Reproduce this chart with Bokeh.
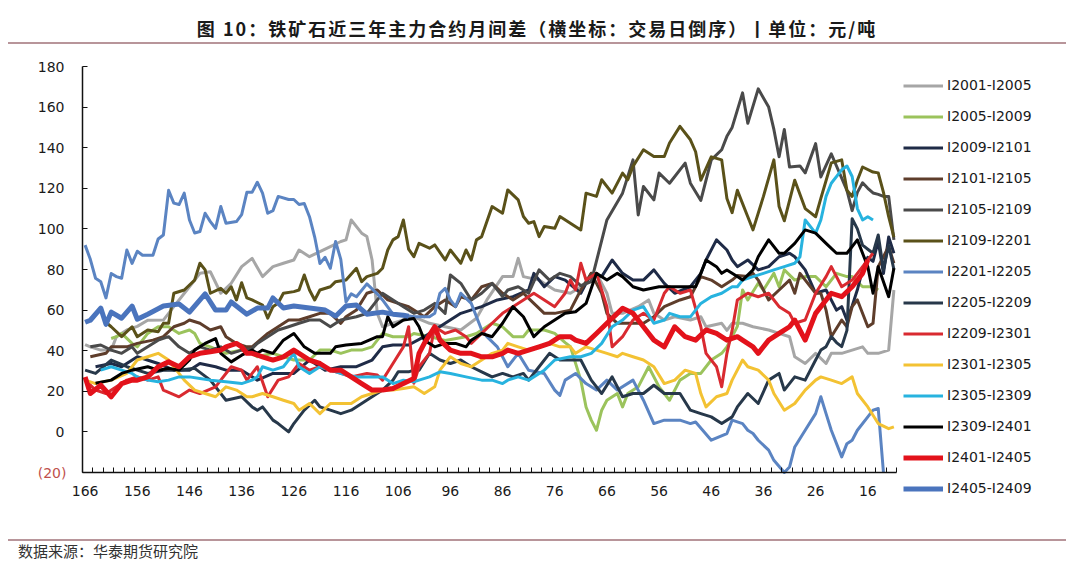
from bokeh.plotting import figure
from bokeh.models import Range1d, FixedTicker, Legend, LegendItem, LinearAxis, Div
from bokeh.layouts import column
from bokeh.embed import file_html
from bokeh.resources import INLINE

# ---- data: (trading days before expiry, spread in yuan/ton) ----
I2001_I2005 = [(166,43),(165,41.9),(163,40.3),(161,40.3),(160,46.9),(158,50.2),(156,52),(154,55),(151,55.1),(149,61.7),(146,71.5),(144,78.1),(142,78.9),(140,68.3),(138,73.2),(136,81.4),(134,85.5),(132,76.5),(130,81.4),(128,83.1),(126,84.7),(125,89.6),(123,86.3),(121,88.8),(119,91.3),(117,93.8),(116,94.6),(115,104.4),(113,97.9),(112,96.2),(111,84.7),(110,58.4),(109,51.8),(107,53.5),(105,55.1),(103,56.7),(100,53.5),(97,51.8),(94,50.2),(91,56),(89,65),(86,76.5),(84,76.5),(83,85.5),(82,76.5),(79,74.8),(77,71.5),(76,69.9),(73,68.3),(71,71.5),(68,78.1),(66,68.3),(65,58.4),(63,58.4),(60,61.7),(58,65),(57,58.4),(55,55.1),(53,56.7),(50,55.1),(48,56.7),(47,51.8),(44,53.5),(43,50),(42,53.5),(40,53.5),(38,51.8),(35,50.2),(33,48.5),(31,46.9),(30,37),(28,33.7),(26,38.7),(24,33.7),(23,38.7),(21,38.7),(19,40.3),(17,41.9),(16,38.7),(14,38.7),(12,40.3),(11,69.9)]
I2005_I2009 = [(161,46),(160,46.9),(159,48.5),(157,43.6),(156,41.9),(154,48.5),(152,51.8),(150,51.8),(148,48.5),(146,50.2),(145,48.5),(144,43.6),(142,41.9),(139,38.7),(136,40.3),(134,38.7),(133,37),(130,38.7),(126,35.4),(123,35.4),(121,40.3),(119,40.3),(117,38.7),(115,40.3),(113,40.3),(111,41.9),(109,48.5),(107,46.9),(106,46.9),(104,46.9),(103,48.5),(100,47),(97,45),(93,46.9),(91,48.5),(88,53.5),(86,51.8),(84,46.9),(82,46.9),(81,50.2),(78,50.2),(76,48.5),(74,44),(73,42),(71,25.5),(70,12.3),(69,5.8),(68,0.8),(67,10.7),(66,15.6),(64,18.9),(63,12.3),(62,18.9),(60,22.2),(58,32.1),(56,22.2),(54,15.6),(52,25.5),(50,28.8),(48,28.8),(46,35.4),(44,38.7),(43,41.9),(41,52),(40,69.9),(39,65),(37,73.2),(36,69.9),(34,78.1),(33,71.5),(32,79.8),(30,74.8),(28,76.5),(26,76.5),(24,71.5),(22,78.1),(20,76.5),(19,76.5),(17,71.5),(15,71.5),(14,69.9)]
I2009_I2101 = [(164,32.1),(161,33.7),(159,32.1),(156,37),(152,33.7),(149,30.4),(146,30.4),(144,33.7),(141,32.1),(139,30.4),(136,30.4),(133,25.5),(130,28.8),(126,28.8),(123,35.4),(120,30.4),(117,32.1),(114,32.1),(111,35.4),(109,41.9),(107,42.8),(104,42.8),(101,46.9),(97,53.5),(94,58.4),(90,61.7),(87,65),(84,66.6),(81,69.9),(80,78.1),(78,71.5),(76,76.5),(74,74.8),(71,68.3),(69,78.1),(67,76.5),(65,84.7),(63,78.1),(61,74.8),(59,74.8),(57,79.8),(55,73.2),(53,68.3),(50,71.5),(48,78.1),(47,84.7),(45,94.6),(43,89.6),(42,84.7),(41,81.4),(39,84.7),(37,79.8),(35,81.4),(33,86.3),(31,88),(30,86.3),(28,79.8),(26,68.3),(24,69.9),(23,65),(22,60),(21,61.7),(20,55),(19,62),(18,70),(17,80),(16,86),(15,84),(14,94),(13,78),(12,96),(11,88)]
I2101_I2105 = [(165,37),(162,38.7),(161,41.9),(158,41.9),(156,43.6),(153,45.2),(151,46.9),(149,51.8),(147,53.5),(146,55.1),(144,53.5),(142,50.2),(140,51.8),(139,46.9),(137,43.6),(135,41.9),(134,41.9),(131,48.5),(129,51.8),(127,55.1),(125,55.1),(123,56.7),(121,58.4),(119,58.4),(117,53.5),(116,56.7),(114,60),(112,68.3),(110,69.9),(108,65),(106,63.3),(104,61.7),(103,60),(101,56.7),(99,61.7),(97,65),(95,61.7),(94,66.6),(92,65),(90,71.5),(88,73.2),(86,68.3),(84,65),(82,68.3),(80,63.3),(78,58.4),(76,58.4),(73,60),(71,69.9),(69,78.1),(67,68.3),(66,58.4),(64,53.5),(61,53.5),(59,53.5),(57,56.7),(55,61.7),(52,65),(50,66.6),(48,76.5),(46,74.8),(44,71.5),(42,74.8),(41,77),(39,76.5),(38,78.1),(37,74.8),(35,65),(33,69.9),(31,74.8),(30,68.3),(29,78.1),(26,68.3),(25,68.3),(24,60),(23,46.9),(21,55.1),(20,51.8),(19,61.7),(18,65),(16,51.8),(15,53.5),(14,81.4),(12,91.3),(11,83.1)]
I2105_I2109 = [(165,41.9),(163,42.8),(161,40.3),(159,38.7),(157,41.9),(156,38.7),(154,41.9),(152,45.2),(150,46.9),(148,41.9),(146,38.7),(144,41.9),(142,40.3),(140,41.9),(138,38.7),(136,40.3),(134,41),(133,43.6),(131,46.9),(129,50.2),(127,51.8),(125,53.5),(123,55.1),(121,55.1),(119,51.8),(117,55.1),(114,56.7),(112,58.4),(110,65),(109,68.3),(107,65),(105,61.7),(103,58.4),(101,60),(99,63.3),(97,58.4),(96,77.3),(94,73.2),(92,65),(90,68.3),(88,73.2),(86,66.6),(85,69.9),(83,71.5),(81,68.3),(79,79.8),(77,74.8),(75,78.1),(73,76.5),(71,72),(69,74),(66,104.4),(63,117.6),(61,134),(60,106.9),(59,120.9),(57,114.3),(56,127.5),(54,122.5),(51,132.4),(50,122.5),(48,114),(46,134),(44,139),(43,145.6),(42,150),(40,167),(39,152),(37,169),(35,160),(34,149),(33,135.5),(32,149),(31,130.5),(29,131),(28,127.6),(26,142),(25,125.6),(23,137),(22,131),(21,125),(20,119),(19,109),(18,118),(17,122.7),(16,120),(15,117.7),(14,117),(13,116),(12,116),(11,94.6)]
I2109_I2201 = [(162,54),(161,51.8),(159,46.9),(157,51.8),(156,46.9),(154,50.2),(152,49.3),(151,53.5),(150,53.5),(149,68.3),(147,69.9),(145,74.8),(144,83.1),(143,79.8),(142,68.3),(140,70.7),(139,68.3),(138,71.5),(137,65),(136,73.5),(135,66),(134,65),(132,62.5),(131,56),(130,61.7),(129,63.5),(128,68.3),(126,69.1),(125,69.9),(124,77.3),(123,69.9),(122,65),(121,69.9),(119,71.5),(118,74),(116,74.8),(114,80.6),(113,74),(112,76.5),(110,78.1),(109,80.6),(108,89.6),(107,94.6),(106,96.2),(105,104.4),(104,90),(103,86.3),(102,92.9),(100,90.5),(99,92.1),(97,84.7),(96,89.6),(94,83.1),(93,89.6),(92,84.7),(91,94.6),(90,96.2),(88,111),(86,107.7),(85,119.2),(83,114.3),(82,106.1),(81,102.8),(80,103.6),(79,96.2),(78,101.2),(76,100.3),(75,106.1),(73,102.8),(71,99.5),(70,117.6),(68,116),(67,124.2),(65,117.6),(63,127.5),(62,124.2),(61,130.8),(59,139),(57,135.7),(55,135.7),(54,142.3),(52,150.5),(50,143.9),(49,138),(48,124),(46,135.5),(44,134),(43,115),(42,108),(41,119),(39,106),(38,99.5),(36,116),(35,125),(34,134),(33,111),(32,104),(30,124),(28,110),(27,108),(26,106),(25,115),(23,132.5),(21,134),(20,119),(19,116),(18,124),(17,130.5),(15,128),(14,127.6),(13,118),(12,106),(11,96)]
I2201_I2205 = [(166,92),(165,85),(164,75.7),(163,74),(162,66),(161,78),(160,76.5),(159,75.7),(158,89.6),(157,83),(156,89),(155,87),(153,87),(152,95),(151,97),(150,119),(149,112.7),(148,112),(147,117.6),(146,104.4),(145,98),(144,98.7),(143,107.7),(142,103.6),(141,100.3),(140,111),(139,102.8),(137,103.6),(136,107),(135,118),(134,118),(133,123),(132,117.6),(131,107.7),(130,109),(129,116),(127,114.5),(126,114.5),(125,112),(124,112.5),(123,106),(122,96),(121,83),(120,86),(119,80.6),(118,93.8),(117,85),(116,64),(115,68),(114,66.6),(112,72.9),(110,68),(109,65),(107,58),(105,57.6),(103,56.7),(100,56.7),(99,58.4),(98,68.3),(97,70.7),(96,65),(95,61.7),(94,68.3),(92,63.3),(90,50.2),(89,46.9),(87,41.9),(85,32.1),(83,38.7),(81,30.4),(78,28.8),(76,20.6),(75,18),(74,25.5),(72,28.8),(70,23.8),(68,20.6),(66,25.5),(64,20.6),(61,25.5),(59,15.6),(57,4.1),(55,5.8),(52,5.8),(50,4.1),(49,4.9),(46,-4.1),(43,-0.8),(42,5.8),(40,4.1),(39,0.8),(38,-0.8),(37,-4.1),(35,-9),(34,-14),(32,-20),(31,-17.3),(30,-7.4),(28,0.8),(26,9),(25,17.3),(24,9),(23,0.8),(21,-12.3),(20,-5.8),(19,-4.1),(18,0.8),(16,7.4),(15,10.7),(14,11.5),(13,-20)]
I2205_I2209 = [(166,30.4),(164,28.8),(161,35.4),(158,32.1),(154,28.8),(151,30.4),(148,30.4),(145,31.3),(142,25.5),(139,15.6),(136,17.3),(134,12.3),(133,10.7),(132,12.3),(130,5.8),(129,4.1),(127,0),(126,4.1),(124,10.7),(122,15.6),(121,12.3),(119,10.7),(117,9),(115,10.7),(113,14),(111,17.3),(109,20.6),(107,25.5),(106,29.6),(104,29.6),(103,30.4),(102,30.4),(100,38.7),(98,35.4),(96,33.7),(94,35.4),(92,32.1),(90,29.6),(88,27.1),(86,28.8),(84,27.1),(82,28.8),(81,25.5),(79,32.1),(77,38.7),(75,35.4),(73,35.4),(71,35.4),(69,25.5),(67,18.9),(65,27.1),(63,17.3),(61,18.9),(59,18.9),(57,23),(55,18.9),(52,18.9),(50,10.7),(48,9),(46,7.4),(44,4.1),(42,7.4),(41,12.3),(39,18.9),(37,14),(35,25.5),(33,28.8),(32,20.6),(30,27.1),(28,25.5),(26,35.4),(25,40.3),(24,42),(23,47),(22,44),(21,42),(20,50),(19,105),(18,100),(17,92),(16,90),(15,88),(14,97),(13,80),(12,92),(11,80)]
I2209_I2301 = [(166,25.5),(164,20.6),(162,18.9),(160,22.2),(158,25.5),(156,27.1),(154,25.5),(152,27.1),(151,20.6),(148,17.3),(146,20.6),(144,18.9),(141,22.2),(140,25.5),(138,32.1),(136,30.4),(135,25.5),(133,32.1),(131,17.3),(129,25.5),(127,27.1),(125,33.7),(123,30.4),(121,32.1),(119,30.4),(117,28.8),(115,27.1),(112,28.8),(110,28),(109,25.5),(107,33.7),(105,41.9),(104,51.8),(103,24),(102,32.1),(100,38.7),(99,51.8),(97,48.5),(95,50.2),(93,46.9),(92,43.6),(90,48.5),(88,53.5),(86,58.4),(84,61.7),(82,65),(80,68.3),(78,65),(76,61.7),(74,68.3),(73,74.8),(72,70),(71,83.1),(70,74.8),(68,78.1),(66,61.7),(65,41.9),(63,46.9),(61,55.1),(59,58.4),(57,55.1),(55,68.3),(54,71.5),(52,68.3),(50,69.9),(48,51.8),(47,38.7),(45,32.1),(44,22.2),(43,38.7),(42,50),(41,65),(39,68.3),(37,66.6),(35,68.3),(33,61.7),(31,58.4),(30,53.5),(28,55.1),(26,68.3),(24,76.5),(23,81.4),(21,71.5),(19,74.8),(17,81.4),(15,88)]
I2301_I2305 = [(166,25.5),(164,23.8),(161,25.5),(158,28.8),(156,35.4),(154,37),(152,38.7),(150,35.4),(149,32.1),(147,25.5),(145,20.6),(143,18.9),(141,17.3),(139,22.2),(137,20.6),(135,17.3),(134,17.3),(132,18.9),(130,17.3),(128,15.6),(126,14),(125,10.7),(123,14),(121,9),(119,14),(117,14),(115,14),(113,17.3),(111,18.9),(109,20.6),(107,20.6),(105,21.4),(103,22.2),(101,18.9),(99,22.2),(98,30.4),(96,37),(94,33.7),(92,32.1),(90,35.4),(88,38.7),(86,40.3),(85,43.6),(83,41.9),(81,40.3),(79,41.9),(77,43.6),(75,41.9),(73,41.9),(72,38.7),(70,41.9),(68,40.3),(66,38.7),(64,37),(63,38.7),(61,37),(59,35.4),(57,32.1),(55,23.8),(53,25.5),(51,30.4),(49,28.8),(48,18.9),(47,12.3),(45,17.3),(43,18.9),(42,25.5),(40,35.4),(39,32.1),(37,30.4),(35,25.5),(34,18.9),(32,10.7),(30,14),(28,20.6),(26,25.5),(25,27.1),(23,25.5),(21,23.8),(19,27.1),(18,18.9),(16,12.3),(14,4.1),(12,1.6),(11,2.5)]
I2305_I2309 = [(163,30.4),(161,32.1),(159,30.4),(157,28.8),(156,27.1),(154,25.5),(152,24.7),(150,25.5),(148,27.1),(146,27.1),(144,26.3),(142,25.5),(139,24.7),(136,23.8),(134,25.5),(133,27.1),(132,32.1),(130,30.4),(128,32.1),(126,38.7),(125,32.1),(123,28.8),(121,32.1),(119,30.4),(117,28.8),(114,27.1),(112,27.1),(109,27.1),(107,23.8),(105,25.5),(103,24.7),(102,25.5),(100,27.1),(98,29.6),(96,28.8),(93,27.1),(90,25.5),(88,25.5),(86,23.8),(85,25.5),(83,27.1),(81,25.5),(78,30.4),(76,35.4),(73,37),(71,37),(69,38.7),(67,43.6),(65,51.8),(63,55.1),(61,60),(59,61.7),(57,53.5),(55,55.1),(54,58.4),(52,56.7),(50,56.7),(48,63.3),(46,66.6),(44,68.3),(42,71.5),(41,71.5),(40,74.8),(38,76.5),(36,78.1),(34,79.8),(32,81.4),(30,83.1),(29,86.3),(28,104.4),(26,97.9),(25,104.4),(24,116),(23,122.5),(21,129.1),(20,131),(19,125.8),(18,110),(17,104.4),(16,106),(15,104.4)]
I2309_I2401 = [(164,24),(161,25.5),(159,28.8),(157,30.4),(154,32.1),(152,30.4),(150,31.3),(148,30.4),(146,35.4),(145,40.3),(143,43.6),(141,46),(140,38.7),(138,34.5),(136,37.8),(134,40.3),(133,38.7),(132,40.3),(130,38.7),(128,45.2),(126,48.5),(124,41.9),(122,38.7),(119,38.7),(118,41.9),(116,42.8),(113,43.6),(110,46.9),(109,46.9),(108,56.7),(107,51.8),(105,55.1),(103,55.9),(102,51.8),(101,45.2),(99,41.9),(97,43.6),(95,43.6),(93,41.9),(92,45.2),(90,48.5),(88,46.9),(86,53.5),(84,61.7),(82,56.7),(80,46.9),(78,51.8),(76,55.1),(74,58.4),(72,59.2),(70,63.3),(68,78.1),(66,74.8),(64,78.1),(63,76.5),(61,71.5),(59,69.9),(56,71.5),(54,71.5),(51,71.5),(49,71.5),(48,78.1),(47,84.7),(45,81.4),(44,78.1),(43,79.8),(41,76.5),(40,74.8),(38,79.8),(37,86.3),(35,94.6),(33,88),(32,88),(30,92.9),(28,99.5),(26,97.9),(24,92.9),(22,88),(20,88),(18,94.6),(16,81.4),(15,68.3),(14,81.4),(12,66.6),(11,80.6)]
I2401_I2405 = [(166,27.1),(165,18.9),(163,23),(161,17.3),(159,23.8),(157,25.5),(156,25.5),(154,27.1),(152,32.1),(150,34.5),(148,32.1),(146,37),(144,38.7),(142,39.5),(140,40.3),(139,41.9),(137,43.6),(136,41.9),(135,38.7),(134,38.7),(132,37),(130,35.4),(128,37),(126,40.3),(125,38.7),(123,35.4),(121,33.7),(119,30.4),(117,30.4),(115,27.1),(113,23.8),(111,20.6),(109,20.6),(107,21.4),(105,23.8),(103,26.3),(102,38.7),(101,43.6),(99,51.8),(98,45.2),(96,40.3),(94,38.7),(92,38.7),(90,37),(88,37),(86,38.7),(85,40.3),(83,38.7),(81,40.3),(79,41.9),(77,43.6),(75,46.9),(73,46.9),(72,45.2),(70,43.6),(68,48.5),(66,53.5),(64,58.4),(63,60.9),(61,58.4),(59,51.8),(57,45.2),(55,41.9),(53,51.8),(51,46.9),(49,45.2),(47,50.2),(45,48.5),(43,45.2),(41,46.9),(40,45.2),(38,41.9),(37,38.7),(35,45.2),(33,48.5),(31,51.8),(30,55.1),(28,45.2),(26,58.4),(24,65),(23,68.3),(21,66.6),(19,71.5),(17,78.1),(16,84.7)]
I2405_I2409 = [(166,54),(165,55),(163,61),(162,53),(161,59),(159,56),(157,62),(156,55.5),(154,58),(151,62),(148,63),(146,59),(143,68),(141,60),(139,60),(138,64),(135,58),(133,61),(131,61),(130,66),(128,61),(126,62),(123,61),(120,60),(118,57),(116,62),(114,62.5),(112,58),(109,59),(107,58),(105,57.5),(104,57)]

series_names = ["I2001-I2005", "I2005-I2009", "I2009-I2101", "I2101-I2105", "I2105-I2109",
                "I2109-I2201", "I2201-I2205", "I2205-I2209", "I2209-I2301", "I2301-I2305",
                "I2305-I2309", "I2309-I2401", "I2401-I2405", "I2405-I2409"]
series_data = [I2001_I2005, I2005_I2009, I2009_I2101, I2101_I2105, I2105_I2109,
               I2109_I2201, I2201_I2205, I2205_I2209, I2209_I2301, I2301_I2305,
               I2305_I2309, I2309_I2401, I2401_I2405, I2405_I2409]
x_tick_labels = [166, 156, 146, 136, 126, 116, 106, 96, 86, 76, 66, 56, 46, 36, 26, 16]
y_ticks = [-20, 0, 20, 40, 60, 80, 100, 120, 140, 160, 180]
x_first, x_last = 166.5, 10.5      # category axis extent (days)
y_min, y_max = -20, 180

title_text = "图 10：铁矿石近三年主力合约月间差（横坐标：交易日倒序）丨单位：元/吨"
source_text = "数据来源：华泰期货研究院"

colors = ["#a6a6a6", "#9bc35c", "#1f2b47", "#5e3d2b", "#4a4a4a",
          "#5a5119", "#5b84c2", "#27384a", "#d92a30", "#f3c233",
          "#27b3df", "#000000", "#e3121b", "#4a74bd"]
widths = [3, 3, 3, 3, 3, 3, 3, 3, 3, 3, 3, 3, 5, 5]

FONT = "DejaVu Sans"
CJK = "Noto Sans CJK SC"
RULE = "#b8959a"

# ---------- header ----------
header = Div(width=1080, height=44, margin=(0, 0, 0, 0), text=(
    f'<div style="margin:0 0 0 8px;width:1058px;height:42px;'
    f'border-bottom:2px solid {RULE};box-sizing:content-box;'
    f'text-align:center;font-family:\'{CJK}\';font-weight:bold;font-size:18px;'
    f'letter-spacing:2px;color:#1a1a1a;line-height:20px;">'
    f'<div style="padding-top:18px;">{title_text}</div></div>'))

# ---------- main chart ----------
# The frame fills the whole figure (1080 x 492); the axes are pinned (fixed_location)
# and bounded so that the plotting area is 82..896 px wide and 22..428 px tall within it,
# which leaves room inside the frame for tick labels and the legend.
FW, FH = 1080, 492
ax_left, ax_right = 82.0, 896.0
ax_top, ax_bottom = 22.0, 428.0
px_per_day = (ax_right - ax_left) / (x_first - x_last)
px_per_unit = (ax_bottom - ax_top) / (y_max - y_min)
x_start = x_first + ax_left / px_per_day
x_end = x_first - (FW - ax_left) / px_per_day
y_top = y_max + ax_top / px_per_unit
y_bot = y_min - (FH - ax_bottom) / px_per_unit

p = figure(width=FW, height=FH, output_backend="svg", toolbar_location=None, title=None,
           x_range=Range1d(x_start, x_end), y_range=Range1d(y_bot, y_top),
           min_border_left=0, min_border_right=0, min_border_top=0, min_border_bottom=0)
p.outline_line_color = None
p.background_fill_color = "white"
p.border_fill_color = "white"
p.xgrid.visible = False
p.ygrid.visible = False

p.xaxis.fixed_location = y_min
p.xaxis.bounds = (x_last, x_first)
p.xaxis.ticker = FixedTicker(ticks=x_tick_labels,
                             minor_ticks=[x_first - 2 * k for k in range(79)])
p.xaxis.major_tick_in = 0
p.xaxis.major_tick_out = 0
p.xaxis.minor_tick_in = 5
p.xaxis.minor_tick_out = 0
p.xaxis.minor_tick_line_color = "#111111"
p.xaxis.axis_line_color = "#111111"
p.xaxis.axis_line_width = 1.5
p.xaxis.major_label_text_font = FONT
p.xaxis.major_label_text_font_size = "14px"
p.xaxis.major_label_text_color = "#1a1a1a"
p.xaxis.major_label_standoff = 13

p.yaxis.fixed_location = x_first
p.yaxis.bounds = (y_min, y_max)
p.yaxis.ticker = FixedTicker(ticks=y_ticks, minor_ticks=[])
p.yaxis.major_tick_in = 5
p.yaxis.major_tick_out = 0
p.yaxis.major_tick_line_color = "#111111"
p.yaxis.axis_line_color = "#111111"
p.yaxis.axis_line_width = 1.5
p.yaxis.major_label_text_font = FONT
p.yaxis.major_label_text_font_size = "14px"
p.yaxis.major_label_text_color = "#1a1a1a"
p.yaxis.major_label_standoff = 18
p.yaxis.major_label_overrides = {-20: " "}

# the negative tick label, red and in parentheses (accounting format)
neg_axis = LinearAxis(fixed_location=x_first,
                      ticker=FixedTicker(ticks=[-20], minor_ticks=[]),
                      major_label_overrides={-20: "(20)"},
                      major_label_text_color="#c0504d",
                      major_label_text_font=FONT, major_label_text_font_size="14px",
                      axis_line_color=None, major_tick_line_color=None,
                      minor_tick_line_color=None, major_tick_in=0, major_tick_out=0,
                      major_label_standoff=16)
p.add_layout(neg_axis, "left")

items = []
for name, data, c, w in zip(series_names, series_data, colors, widths):
    xs = [d for d, v in data]
    ys = [v for d, v in data]
    r = p.line(xs, ys, line_color=c, line_width=w, line_join="round")
    items.append(LegendItem(label=name, renderers=[r]))

legend = Legend(items=items, location=(903, 32.5), orientation="vertical",
                glyph_width=40, glyph_height=31, label_height=31, label_standoff=4,
                spacing=0, padding=0, margin=0,
                border_line_alpha=0, background_fill_alpha=0,
                label_text_font=FONT, label_text_font_size="14px",
                label_text_color="#1a1a1a")
p.add_layout(legend)

# ---------- footer ----------
footer = Div(width=1080, height=40, margin=(0, 0, 0, 0), text=(
    f'<div style="margin:3px 0 0 8px;width:1058px;border-top:2px solid {RULE};'
    f'font-family:\'{CJK}\';font-size:15px;color:#333333;line-height:20px;">'
    f'<div style="padding-left:10px;">{source_text}</div></div>'))

page = column(header, p, footer, spacing=0)
open("out.html", "w").write(file_html(page, INLINE))
